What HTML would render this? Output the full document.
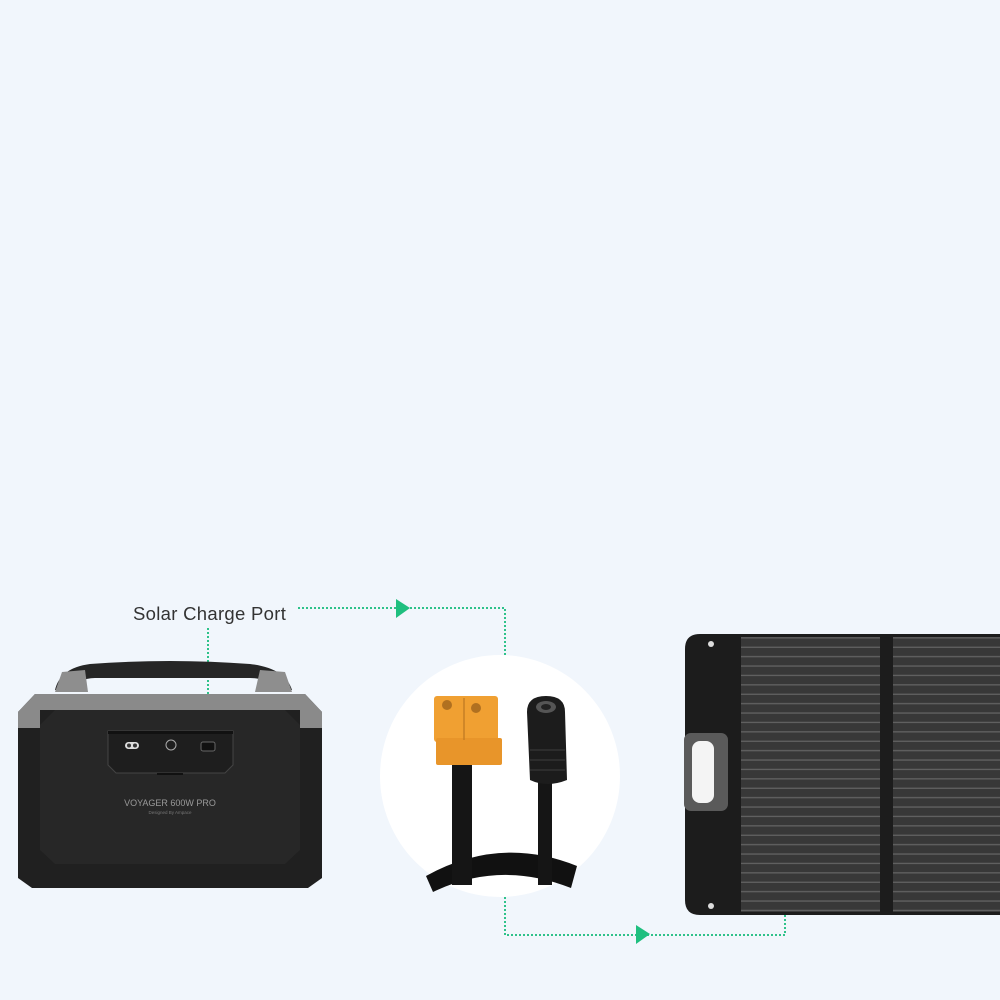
<!DOCTYPE html>
<html><head><meta charset="utf-8"><style>
html,body{margin:0;padding:0;background:#f1f6fc;}
svg{display:block}
</style></head><body>
<svg width="1000" height="1000" viewBox="0 0 1000 1000" xmlns="http://www.w3.org/2000/svg">
<defs>
<pattern id="cells" x="0" y="639" width="40" height="9.4" patternUnits="userSpaceOnUse">
<rect width="40" height="9.4" fill="#383838"/>
<rect y="7.6" width="40" height="1.3" fill="#626262"/>
</pattern>
</defs>
<rect width="1000" height="1000" fill="#f1f6fc"/>
<g stroke="#2ec28a" stroke-width="2" stroke-dasharray="2 2" fill="none">
<path d="M298 608 H505 V655"/>
<path d="M208 628 V740"/>
<path d="M505 897 V935 H785 V915"/>
<rect x="197" y="739" width="22" height="17" rx="5"/>
</g>
<polygon points="396,599 410,608 396,618" fill="#1fbf7f"/>
<polygon points="636,925 650,934 636,944" fill="#1fbf7f"/>
<text x="133" y="620" font-family="Liberation Sans, sans-serif" font-size="18.5" fill="#333" letter-spacing="0.3">Solar Charge Port</text>

<path d="M55 690 Q60 668 90 664 Q170 658 250 664 Q285 668 292 690 L275 692 Q268 678 250 678 L95 678 Q78 678 72 692 Z" fill="#262626"/>
<path d="M55 692 L62 672 L85 670 L88 692 Z" fill="#8e8e8e"/>
<path d="M255 692 L260 670 L285 672 L292 692 Z" fill="#8e8e8e"/>
<path d="M18 712 L35 694 L305 694 L322 712 L322 878 L308 888 L32 888 L18 878 Z" fill="#202020"/>
<path d="M18 712 L35 694 L305 694 L322 712 L322 728 L300 728 L300 710 L40 710 L40 728 L18 728 Z" fill="#8a8a8a"/>
<path d="M55 710 L285 710 L300 725 L300 850 L285 864 L55 864 L40 850 L40 725 Z" fill="#272727"/>
<path d="M108 731 H233 V765 L225 773 H116 L108 765 Z" fill="#1e1e1e" stroke="#444" stroke-width="1"/>
<rect x="108" y="731" width="125" height="3" fill="#111"/>
<rect x="125" y="742" width="14" height="7" rx="3.5" fill="#ddd"/>
<circle cx="129" cy="745.5" r="2" fill="#333"/><circle cx="135" cy="745.5" r="2" fill="#333"/>
<circle cx="171" cy="745" r="5" fill="none" stroke="#aaa" stroke-width="1"/>
<rect x="201" y="742" width="14" height="9" rx="2" fill="#111" stroke="#666"/>
<rect x="157" y="773" width="26" height="2" fill="#111"/>
<text x="170" y="806" text-anchor="middle" font-family="Liberation Sans, sans-serif" font-size="9" fill="#9a9a9a">VOYAGER 600W PRO</text>
<text x="170" y="814" text-anchor="middle" font-family="Liberation Sans, sans-serif" font-size="4.5" fill="#777">Designed By Ampace</text>

<ellipse cx="500" cy="776" rx="120" ry="121" fill="#ffffff"/>
<path d="M426 876 Q500 835 577 866 L571 888 Q500 860 433 892 Z" fill="#111"/>
<rect x="452" y="760" width="20" height="125" fill="#151515"/>
<rect x="538" y="760" width="14" height="125" fill="#151515"/>
<rect x="434" y="696" width="64" height="46" rx="3" fill="#f0a032"/>
<rect x="436" y="738" width="66" height="27" rx="2" fill="#e8952a"/>
<circle cx="447" cy="705" r="5" fill="#b07020"/><circle cx="476" cy="708" r="5" fill="#b07020"/>
<line x1="464" y1="698" x2="464" y2="740" stroke="#c67f25" stroke-width="1.5"/>
<path d="M527 712 Q527 696 546 696 Q565 696 565 712 L567 780 Q547 788 530 780 Z" fill="#1c1c1c"/>
<ellipse cx="546" cy="707" rx="10" ry="6" fill="#555"/><ellipse cx="546" cy="707" rx="5" ry="3" fill="#222"/>
<g stroke="#333" stroke-width="1.5"><line x1="530" y1="750" x2="565" y2="750"/><line x1="530" y1="760" x2="565" y2="760"/><line x1="530" y1="770" x2="565" y2="770"/></g>

<path d="M700 634 H1000 V915 H700 Q685 915 685 900 V649 Q685 634 700 634 Z" fill="#1c1c1c"/>
<rect x="741" y="637" width="139" height="275" fill="url(#cells)"/>
<rect x="893" y="637" width="107" height="275" fill="url(#cells)"/>
<circle cx="711" cy="644" r="3" fill="#ddd"/><circle cx="711" cy="906" r="3" fill="#ddd"/>
<rect x="684" y="733" width="44" height="78" rx="7" fill="#5a5a5a"/>
<rect x="692" y="741" width="22" height="62" rx="8" fill="#f4f4f4"/>
</svg>
</body></html>
